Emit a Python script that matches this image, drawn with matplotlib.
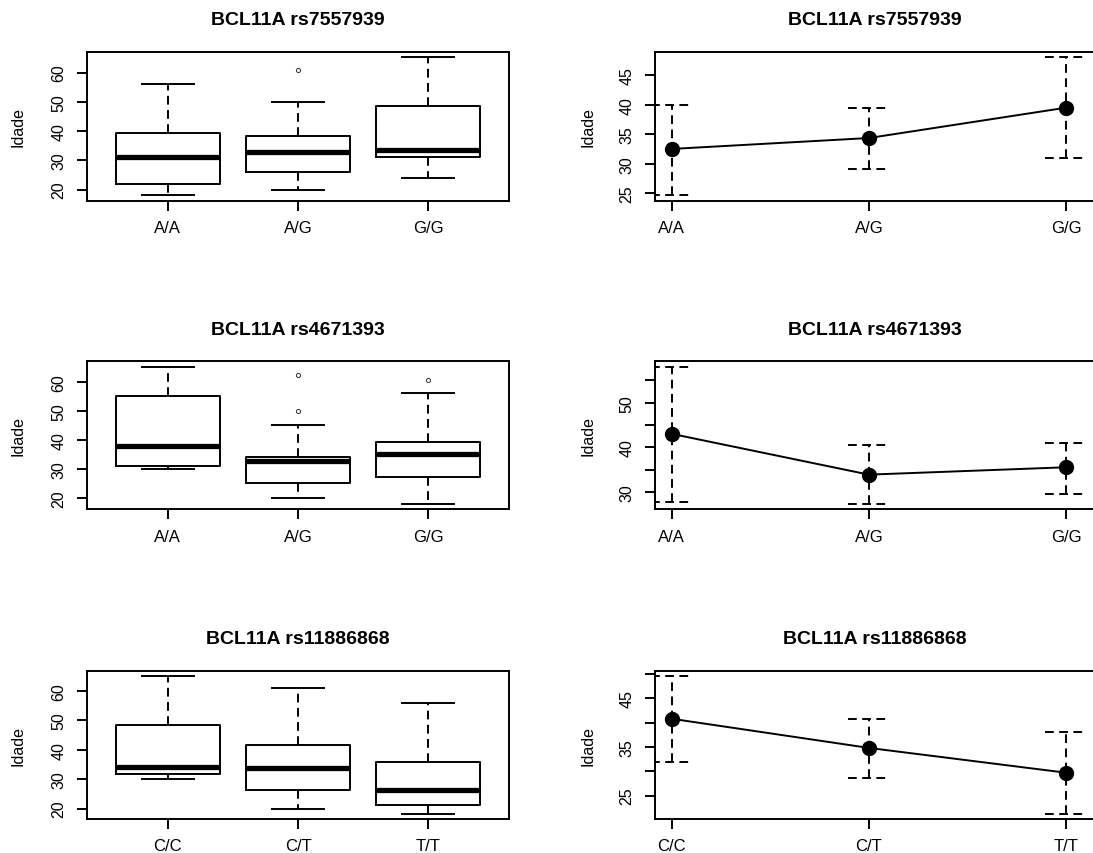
import matplotlib.pyplot as plt

plt.rcParams['font.family'] = ['Liberation Sans', 'DejaVu Sans']

# ---- data ----
titles = ["BCL11A rs7557939", "BCL11A rs4671393", "BCL11A rs11886868"]
genotypes = [["A/A", "A/G", "G/G"],
             ["A/A", "A/G", "G/G"],
             ["C/C", "C/T", "T/T"]]

# boxplot stats per SNP: whisker low, Q1, median, Q3, whisker high, outliers
rs7557939_box = [
    (18, 22, 31, 39.5, 56, []),
    (20, 26, 33, 38.2, 50, [61]),
    (24, 31, 33.4, 48.6, 65.3, []),
]
rs4671393_box = [
    (30, 31.1, 38.2, 55.3, 65.4, []),
    (20, 25.3, 32.9, 34.4, 45.3, [50, 62.4]),
    (18.1, 27.2, 35.2, 39.4, 56.3, [60.9]),
]
rs11886868_box = [
    (30, 31.8, 34.2, 48.3, 65, []),
    (20, 26.2, 33.7, 41.7, 61.1, []),
    (18.3, 21.1, 26.4, 35.9, 55.9, []),
]

# mean plots: mean, lower CI, upper CI
rs7557939_mean = [32.5, 34.35, 39.5]
rs7557939_lo = [24.6, 29.05, 31.0]
rs7557939_hi = [39.9, 39.4, 48.1]

rs4671393_mean = [43.0, 33.85, 35.5]
rs4671393_lo = [27.6, 27.3, 29.45]
rs4671393_hi = [58.05, 40.6, 40.9]

rs11886868_mean = [40.8, 34.8, 29.7]
rs11886868_lo = [31.8, 28.7, 21.3]
rs11886868_hi = [49.5, 40.7, 38.1]

box_data = [rs7557939_box, rs4671393_box, rs11886868_box]
mean_data = [(rs7557939_mean, rs7557939_lo, rs7557939_hi),
             (rs4671393_mean, rs4671393_lo, rs4671393_hi),
             (rs11886868_mean, rs11886868_lo, rs11886868_hi)]

left_ticks = [20, 30, 40, 50, 60]
right_ticks = [[25, 30, 35, 40, 45],
               [30, 35, 40, 45, 50, 55],
               [25, 30, 35, 40, 45, 50]]
right_labels = [["25", "30", "35", "40", "45"],
                ["30", "", "40", "", "50", ""],
                ["25", "", "35", "", "45", ""]]

W, H = 1093, 854
fig = plt.figure(figsize=(W / 100, H / 100), dpi=100)

rows_px = [(52.5, 202), (362.3, 510.3), (672, 820)]
left_px = (87, 509)
right_px = (655, 1095)

lw = 1.4
dash = (0, (4.5, 2.8))


def r_range(lo, hi):
    # R pads the axis range by 4% on each side
    pad = 0.04 * (hi - lo)
    return lo - pad, hi + pad


def style_axes(ax, xlabels, title):
    for s in ax.spines.values():
        s.set_linewidth(lw)
    ax.tick_params(direction='out', length=7, width=lw, labelsize=11.5)
    ax.tick_params(axis='x', pad=7, labelsize=12)
    ax.tick_params(axis='y', pad=8)
    ax.set_xticks([1, 2, 3])
    ax.set_xticklabels(xlabels)
    for t in ax.get_yticklabels():
        t.set_rotation(90)
        t.set_va('center')
    ax.set_ylabel("Idade", fontsize=11.5)
    ax.set_title(title, fontsize=14, fontweight='bold', pad=20)


for i in range(3):
    top, bot = rows_px[i]
    # ---- boxplot ----
    ax = fig.add_axes([left_px[0] / W, 1 - bot / H,
                       (left_px[1] - left_px[0]) / W, (bot - top) / H])
    stats = []
    allv = []
    for lo, q1, med, q3, hi, fl in box_data[i]:
        stats.append(dict(whislo=lo, q1=q1, med=med, q3=q3, whishi=hi, fliers=fl))
        allv += [lo, hi] + fl
    ax.bxp(stats, positions=[1, 2, 3], widths=0.8, capwidths=0.4,
           boxprops=dict(linewidth=lw, color='black'),
           medianprops=dict(linewidth=3.8, color='black', solid_capstyle='butt'),
           whiskerprops=dict(linewidth=lw, color='black', linestyle=dash),
           capprops=dict(linewidth=lw, color='black'),
           flierprops=dict(marker='o', markersize=3, markerfacecolor='none',
                           markeredgecolor='#333333', markeredgewidth=0.7))
    ax.set_xlim(r_range(0.5, 3.5))
    ax.set_ylim(r_range(min(allv), max(allv)))
    ax.set_yticks(left_ticks)
    style_axes(ax, genotypes[i], titles[i])
    ax.yaxis.set_label_coords(-61 / (left_px[1] - left_px[0]), 0.5)

    # ---- mean plot ----
    ax2 = fig.add_axes([right_px[0] / W, 1 - bot / H,
                        (right_px[1] - right_px[0]) / W, (bot - top) / H])
    means, los, his = mean_data[i]
    x = [1, 2, 3]
    ax2.vlines(x, los, his, colors='black', linewidth=lw, linestyles=dash)
    ax2.hlines(los, [v - 0.107 for v in x], [v + 0.107 for v in x],
               colors='black', linewidth=lw, linestyles=dash)
    ax2.hlines(his, [v - 0.107 for v in x], [v + 0.107 for v in x],
               colors='black', linewidth=lw, linestyles=dash)
    ax2.plot(x, means, color='black', linewidth=lw, marker='o', markersize=10)
    ax2.set_xlim(0.9153, 3.147)
    ax2.set_ylim(r_range(min(los), max(his)))
    ax2.set_yticks(right_ticks[i])
    ax2.set_yticklabels(right_labels[i])
    style_axes(ax2, genotypes[i], titles[i])
    ax2.yaxis.set_label_coords(-60 / (right_px[1] - right_px[0]), 0.5)

fig.savefig("out.png", dpi=100)
